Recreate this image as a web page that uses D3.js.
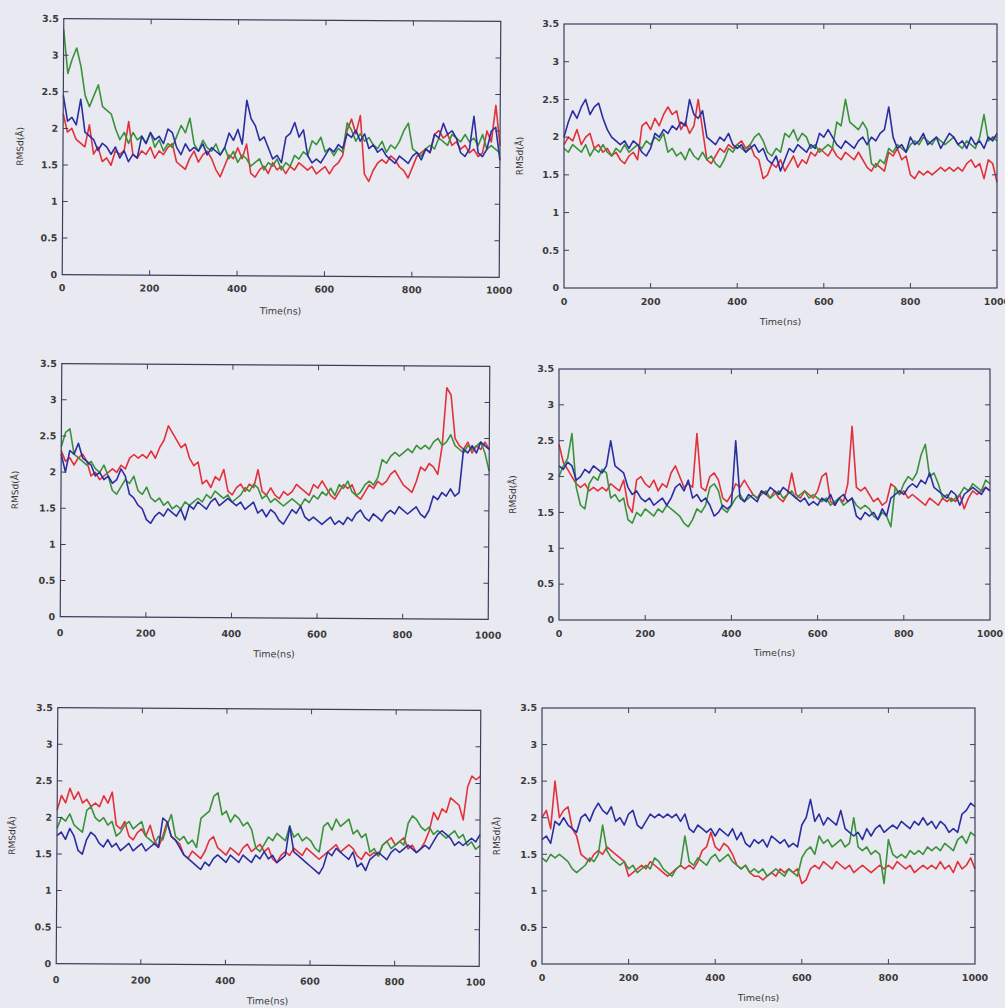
<!DOCTYPE html>
<html><head><meta charset="utf-8">
<script src="https://cdn.jsdelivr.net/npm/d3@7"></script>
<style>
html,body{margin:0;padding:0;background:#e9e9f1;}
svg{display:block;}
text{font-family:"DejaVu Sans",sans-serif;fill:#333;}
</style></head>
<body>
<svg id="chart" width="1005" height="1008"></svg>
<script>
// sampling times (ns)
const times = d3.range(0, 1001, 10);
const yTicks = [0, 0.5, 1, 1.5, 2, 2.5, 3, 3.5];
const yTickLabels = ["0", "0.5", "1", "1.5", "2", "2.5", "3", "3.5"];
const xTicks = [0, 200, 400, 600, 800, 1000];
const xTickLabels = ["0", "200", "400", "600", "800", "1000"];
const seriesNames = ["red", "green", "blue"];

// Panel 1 (top-left)
const p1Red = [2.2,1.95,2.0,1.85,1.8,1.75,2.05,1.65,1.75,1.55,
1.6,1.5,1.7,1.65,1.7,2.1,1.65,1.6,1.7,1.65,
1.75,1.6,1.7,1.65,1.75,1.8,1.55,1.5,1.45,1.6,
1.7,1.55,1.65,1.7,1.6,1.45,1.35,1.5,1.65,1.6,
1.75,1.6,1.8,1.4,1.35,1.45,1.5,1.4,1.55,1.45,
1.5,1.4,1.5,1.45,1.55,1.5,1.45,1.5,1.4,1.45,
1.5,1.4,1.5,1.55,1.65,2.0,2.15,1.95,2.2,1.4,
1.3,1.45,1.55,1.6,1.55,1.65,1.6,1.5,1.45,1.35,
1.5,1.65,1.7,1.75,1.7,1.95,2.0,1.9,1.95,1.8,
1.85,1.75,1.8,1.7,1.75,1.65,1.7,2.0,1.85,2.35,1.8];
const p1Green = [3.35,2.75,2.95,3.1,2.85,2.45,2.3,2.45,2.6,2.3,
2.25,2.2,2.0,1.85,1.95,1.8,1.95,1.85,1.9,1.8,
1.95,1.75,1.85,1.7,1.8,1.75,1.9,2.05,1.95,2.15,
1.8,1.7,1.85,1.75,1.7,1.8,1.65,1.75,1.6,1.7,
1.55,1.65,1.6,1.5,1.55,1.6,1.45,1.55,1.5,1.6,
1.45,1.55,1.5,1.65,1.6,1.7,1.65,1.85,1.8,1.9,
1.7,1.75,1.65,1.75,1.7,2.1,2.0,1.85,1.95,1.85,
1.9,1.8,1.75,1.85,1.7,1.8,1.75,1.85,2.0,2.1,
1.75,1.7,1.65,1.75,1.8,1.75,1.9,1.85,1.8,1.95,
1.9,1.85,1.95,1.85,1.9,1.8,1.95,1.75,1.8,1.75,1.7];
const p1Blue = [2.45,2.1,2.15,2.05,2.4,1.95,1.9,1.85,1.7,1.8,
1.75,1.65,1.75,1.6,1.7,1.55,1.65,1.6,1.9,1.8,
1.95,1.85,1.9,1.8,2.0,1.95,1.75,1.65,1.8,1.7,
1.75,1.7,1.8,1.65,1.75,1.7,1.65,1.75,1.95,1.85,
2.0,1.8,2.4,2.15,2.05,1.85,1.9,1.75,1.6,1.65,
1.55,1.9,1.95,2.1,1.9,2.0,1.65,1.55,1.6,1.55,
1.65,1.75,1.7,1.8,1.75,1.95,1.9,2.0,1.85,1.95,
1.75,1.8,1.7,1.75,1.65,1.6,1.55,1.65,1.6,1.55,
1.65,1.7,1.6,1.75,1.7,1.95,1.9,2.1,1.95,2.0,
1.9,1.7,1.65,1.75,2.2,1.7,1.65,1.75,2.0,2.05,1.6];

// Panel 2 (top-right)
const p2Red = [1.9,2.0,1.95,2.1,1.9,2.0,2.05,1.85,1.9,1.8,
1.85,1.75,1.8,1.7,1.65,1.75,1.8,1.7,2.15,2.2,
2.1,2.25,2.15,2.3,2.4,2.3,2.35,2.1,2.2,2.05,
2.15,2.5,2.1,1.7,1.65,1.75,1.85,1.8,1.9,1.85,
1.9,1.95,1.85,1.9,1.75,1.7,1.45,1.5,1.65,1.6,
1.7,1.55,1.65,1.75,1.6,1.7,1.65,1.8,1.75,1.85,
1.8,1.75,1.85,1.75,1.7,1.8,1.75,1.7,1.8,1.7,
1.6,1.55,1.65,1.6,1.55,1.8,1.75,1.85,1.7,1.75,
1.5,1.45,1.55,1.5,1.55,1.5,1.55,1.6,1.55,1.6,
1.55,1.6,1.55,1.65,1.7,1.6,1.65,1.45,1.7,1.65,1.4];
const p2Green = [1.85,1.8,1.9,1.85,1.8,1.9,1.75,1.85,1.8,1.9,
1.8,1.75,1.85,1.8,1.9,1.8,1.85,1.9,1.85,1.95,
1.9,2.0,1.95,2.05,1.8,1.85,1.75,1.8,1.7,1.85,
1.75,1.7,1.8,1.7,1.75,1.65,1.6,1.7,1.85,1.8,
1.9,1.85,1.8,1.9,2.0,2.05,1.95,1.8,1.75,1.85,
1.8,2.05,2.0,2.1,1.95,2.05,2.0,1.85,1.9,1.8,
1.85,1.9,1.85,2.2,2.15,2.5,2.2,2.15,2.1,2.2,
2.1,1.65,1.6,1.7,1.65,1.85,1.8,1.9,1.85,1.8,
1.9,1.95,1.9,2.0,1.95,1.9,2.0,1.95,1.9,1.95,
2.0,1.9,1.85,1.95,1.9,1.85,2.0,2.3,1.95,2.0,1.95];
const p2Blue = [2.0,2.2,2.35,2.25,2.4,2.5,2.3,2.4,2.45,2.25,
2.1,2.0,1.95,1.9,1.95,1.85,1.95,1.9,1.8,1.75,
1.85,2.05,2.0,2.1,2.05,2.15,2.1,2.2,2.15,2.5,
2.3,2.25,2.35,2.0,1.95,1.9,2.0,1.95,2.05,1.9,
1.85,1.9,1.8,1.85,1.9,1.8,1.85,1.7,1.65,1.75,
1.55,1.7,1.85,1.8,1.9,1.85,1.8,1.9,1.85,2.05,
2.0,2.1,2.0,1.9,1.85,1.95,1.9,1.85,1.95,2.0,
1.9,2.0,1.95,2.05,2.1,2.4,2.0,1.85,1.9,1.8,
2.0,1.9,1.95,2.05,1.9,1.95,2.0,1.85,1.95,2.05,
2.0,1.9,1.95,1.85,2.0,1.9,1.95,1.85,2.0,1.95,2.05];

// Panel 3 (middle-left)
const p3Red = [2.3,2.15,2.2,2.1,2.2,2.25,2.15,1.95,2.0,1.9,
1.95,2.0,2.05,2.0,2.1,2.05,2.2,2.25,2.2,2.25,
2.2,2.3,2.2,2.35,2.45,2.65,2.55,2.45,2.35,2.4,
2.2,2.1,2.15,1.85,1.9,1.8,1.95,1.9,2.05,1.75,
1.7,1.8,1.85,1.75,1.85,1.8,2.05,1.75,1.7,1.8,
1.7,1.65,1.75,1.7,1.75,1.85,1.8,1.75,1.7,1.85,
1.8,1.9,1.8,1.7,1.65,1.75,1.85,1.8,1.85,1.7,
1.65,1.75,1.85,1.8,1.9,1.85,1.9,2.0,2.05,1.95,
1.85,1.8,1.75,1.9,2.1,2.05,2.15,2.1,2.0,2.4,
3.2,3.1,2.5,2.4,2.35,2.45,2.3,2.4,2.35,2.45,2.35];
const p3Green = [2.35,2.55,2.6,2.25,2.2,2.15,2.1,2.15,2.05,2.0,
2.1,1.95,1.75,1.7,1.8,1.9,1.85,1.95,1.75,1.7,
1.8,1.65,1.6,1.65,1.55,1.6,1.5,1.55,1.5,1.6,
1.55,1.6,1.65,1.6,1.7,1.65,1.75,1.7,1.65,1.7,
1.6,1.65,1.7,1.8,1.75,1.85,1.8,1.65,1.7,1.6,
1.65,1.6,1.55,1.6,1.65,1.6,1.55,1.65,1.6,1.7,
1.65,1.75,1.7,1.8,1.7,1.85,1.8,1.9,1.75,1.7,
1.75,1.85,1.9,1.85,1.95,2.2,2.15,2.25,2.3,2.25,
2.3,2.35,2.3,2.4,2.35,2.4,2.35,2.45,2.5,2.4,
2.45,2.55,2.4,2.35,2.3,2.4,2.35,2.4,2.45,2.3,2.05];
const p3Blue = [2.25,2.0,2.3,2.25,2.4,2.2,2.15,2.1,1.95,2.0,
1.9,1.95,1.85,1.9,2.05,1.95,1.7,1.65,1.55,1.5,
1.35,1.3,1.4,1.45,1.4,1.5,1.45,1.4,1.5,1.35,
1.55,1.5,1.6,1.55,1.5,1.6,1.65,1.55,1.6,1.65,
1.6,1.55,1.6,1.5,1.55,1.6,1.45,1.5,1.4,1.5,
1.45,1.35,1.3,1.4,1.5,1.45,1.55,1.4,1.35,1.4,
1.35,1.3,1.35,1.4,1.3,1.35,1.3,1.4,1.35,1.45,
1.5,1.4,1.35,1.45,1.4,1.35,1.45,1.5,1.45,1.55,
1.5,1.45,1.5,1.55,1.45,1.4,1.5,1.7,1.65,1.75,
1.7,1.8,1.7,1.75,2.35,2.3,2.4,2.3,2.45,2.4,2.35];

// Panel 4 (middle-right)
const p4Red = [2.45,2.2,2.1,2.0,1.9,1.85,1.9,1.8,1.85,1.8,
1.85,1.8,1.9,1.85,1.8,1.95,1.6,1.5,1.95,2.0,
1.9,1.85,1.95,1.8,1.9,1.85,2.05,2.15,2.0,1.85,
1.9,1.85,2.6,1.85,1.8,2.0,2.05,1.95,1.7,1.65,
1.75,1.9,1.85,1.95,1.85,1.75,1.7,1.8,1.75,1.7,
1.8,1.7,1.65,1.75,2.05,1.75,1.7,1.8,1.75,1.7,
1.8,2.0,2.05,1.65,1.6,1.7,1.65,1.9,2.7,1.85,
1.8,1.85,1.75,1.65,1.7,1.6,1.65,1.9,1.85,1.75,
1.8,1.7,1.75,1.7,1.65,1.6,1.7,1.65,1.6,1.7,
1.65,1.7,1.65,1.75,1.55,1.7,1.8,1.75,1.8,1.85,1.8];
const p4Green = [2.0,2.15,2.25,2.6,1.85,1.6,1.55,1.9,2.0,1.95,
2.1,2.05,1.7,1.75,1.65,1.7,1.4,1.35,1.5,1.45,
1.55,1.5,1.45,1.55,1.5,1.6,1.55,1.5,1.45,1.35,
1.3,1.4,1.55,1.5,1.6,1.85,1.9,1.8,1.55,1.5,
1.6,1.7,1.75,1.65,1.7,1.75,1.7,1.75,1.8,1.7,
1.75,1.8,1.7,1.75,1.8,1.7,1.75,1.8,1.7,1.75,
1.7,1.65,1.7,1.6,1.65,1.7,1.6,1.65,1.7,1.6,
1.55,1.6,1.55,1.45,1.4,1.5,1.45,1.3,1.85,1.75,
1.9,2.0,1.95,2.05,2.3,2.45,2.0,2.05,1.9,1.7,
1.75,1.65,1.7,1.75,1.85,1.8,1.9,1.85,1.8,1.95,1.9];
const p4Blue = [2.15,2.1,2.2,2.15,1.95,2.0,2.1,2.05,2.15,2.1,
2.05,2.15,2.5,2.15,2.1,2.05,1.85,1.75,1.8,1.7,
1.65,1.7,1.6,1.65,1.7,1.6,1.7,1.85,1.9,1.8,
1.95,1.7,1.75,1.65,1.7,1.6,1.45,1.5,1.6,1.55,
1.6,2.5,1.7,1.65,1.75,1.7,1.65,1.8,1.75,1.85,
1.8,1.75,1.85,1.8,1.75,1.7,1.65,1.7,1.6,1.65,
1.6,1.7,1.65,1.75,1.6,1.7,1.75,1.65,1.7,1.45,
1.4,1.5,1.45,1.5,1.4,1.55,1.45,1.7,1.75,1.8,
1.75,1.85,1.9,1.85,1.95,1.9,2.05,1.85,1.8,1.75,
1.7,1.8,1.75,1.6,1.75,1.8,1.85,1.8,1.75,1.85,1.8];

// Panel 5 (bottom-left)
const p5Red = [2.1,2.3,2.2,2.4,2.25,2.35,2.2,2.25,2.15,2.2,
2.15,2.3,2.2,2.35,1.9,1.85,1.95,1.75,1.7,1.8,
1.85,1.75,1.9,1.7,1.6,1.75,1.95,1.75,1.7,1.65,
1.5,1.45,1.55,1.5,1.45,1.55,1.7,1.75,1.6,1.55,
1.5,1.6,1.55,1.5,1.6,1.65,1.55,1.6,1.65,1.55,
1.6,1.45,1.4,1.5,1.55,1.5,1.6,1.55,1.5,1.6,
1.55,1.5,1.45,1.5,1.55,1.6,1.65,1.55,1.6,1.65,
1.6,1.5,1.45,1.55,1.5,1.55,1.5,1.65,1.7,1.75,
1.65,1.7,1.75,1.6,1.65,1.55,1.6,1.7,1.85,2.1,
2.0,2.15,2.1,2.3,2.25,2.2,2.0,2.45,2.6,2.55,2.6];
const p5Green = [1.85,2.0,1.95,2.05,1.9,1.85,1.8,2.1,2.15,2.0,
1.95,2.0,1.9,1.95,1.75,1.8,1.9,1.95,1.85,1.9,
1.95,1.75,1.7,1.65,1.75,1.7,1.9,2.05,1.75,1.7,
1.75,1.65,1.7,1.6,2.0,2.05,2.1,2.3,2.35,2.05,
2.1,1.95,2.05,2.0,1.9,1.95,1.85,1.6,1.55,1.65,
1.75,1.7,1.8,1.75,1.7,1.9,1.75,1.8,1.7,1.75,
1.7,1.6,1.55,1.9,1.95,1.85,2.0,1.9,1.95,2.0,
1.8,1.85,1.75,1.8,1.55,1.6,1.5,1.65,1.7,1.6,
1.65,1.7,1.65,1.95,2.05,2.0,1.9,1.85,1.9,1.8,
1.85,1.8,1.75,1.8,1.85,1.75,1.8,1.65,1.7,1.6,1.65];
const p5Blue = [1.75,1.8,1.7,1.85,1.75,1.55,1.5,1.7,1.8,1.75,
1.65,1.6,1.7,1.6,1.65,1.55,1.6,1.65,1.55,1.6,
1.65,1.55,1.6,1.65,1.6,2.0,1.95,1.75,1.7,1.6,
1.5,1.45,1.4,1.35,1.3,1.4,1.35,1.45,1.5,1.45,
1.4,1.5,1.45,1.4,1.5,1.45,1.4,1.5,1.45,1.55,
1.45,1.5,1.4,1.45,1.5,1.9,1.55,1.5,1.45,1.4,
1.35,1.3,1.25,1.35,1.55,1.5,1.6,1.55,1.5,1.45,
1.55,1.35,1.4,1.3,1.45,1.5,1.55,1.5,1.45,1.55,
1.6,1.55,1.6,1.65,1.6,1.55,1.6,1.65,1.6,1.7,
1.8,1.85,1.8,1.75,1.65,1.7,1.65,1.7,1.75,1.7,1.8];

// Panel 6 (bottom-right)
const p6Red = [2.0,2.1,1.85,2.5,2.0,2.1,2.15,1.85,1.75,1.5,
1.45,1.4,1.5,1.55,1.5,1.6,1.55,1.5,1.45,1.4,
1.2,1.25,1.3,1.35,1.3,1.4,1.35,1.3,1.25,1.2,
1.25,1.3,1.35,1.3,1.35,1.3,1.4,1.55,1.6,1.8,
1.6,1.55,1.65,1.6,1.5,1.35,1.3,1.35,1.25,1.2,
1.2,1.15,1.2,1.25,1.2,1.3,1.25,1.3,1.25,1.3,
1.1,1.15,1.3,1.35,1.3,1.4,1.35,1.3,1.4,1.35,
1.3,1.35,1.25,1.3,1.35,1.3,1.25,1.3,1.35,1.3,
1.35,1.3,1.4,1.35,1.3,1.35,1.25,1.3,1.35,1.3,
1.35,1.3,1.4,1.3,1.35,1.25,1.4,1.3,1.35,1.45,1.3];
const p6Green = [1.45,1.4,1.5,1.45,1.5,1.45,1.4,1.3,1.25,1.3,
1.35,1.45,1.4,1.5,1.9,1.55,1.45,1.4,1.35,1.4,
1.3,1.35,1.25,1.3,1.35,1.3,1.45,1.4,1.3,1.25,
1.2,1.3,1.35,1.75,1.4,1.35,1.45,1.4,1.35,1.45,
1.5,1.4,1.45,1.5,1.4,1.35,1.3,1.35,1.25,1.3,
1.25,1.3,1.2,1.25,1.3,1.25,1.2,1.3,1.25,1.2,
1.45,1.55,1.6,1.5,1.75,1.65,1.7,1.6,1.65,1.7,
1.6,1.65,2.0,1.6,1.55,1.6,1.5,1.55,1.5,1.1,
1.7,1.5,1.45,1.5,1.45,1.55,1.5,1.55,1.5,1.6,
1.55,1.6,1.55,1.65,1.6,1.55,1.7,1.75,1.65,1.8,1.75];
const p6Blue = [1.7,1.75,1.65,1.95,1.9,2.0,1.9,1.85,1.8,2.0,
2.05,1.95,2.1,2.2,2.1,2.05,2.15,1.95,2.0,1.9,
2.05,2.1,1.9,1.85,1.95,2.05,2.0,2.05,2.0,2.05,
2.0,2.05,1.95,2.05,1.85,1.8,1.9,1.85,1.8,1.85,
1.75,1.85,1.8,1.75,1.85,1.7,1.8,1.65,1.6,1.7,
1.65,1.7,1.6,1.75,1.7,1.65,1.7,1.6,1.65,1.6,
1.9,2.0,2.25,1.95,2.05,1.9,2.0,1.95,1.9,2.1,
1.85,1.8,1.75,1.8,1.7,1.85,1.75,1.85,1.9,1.8,
1.85,1.9,1.85,1.95,1.9,1.85,1.95,1.9,2.0,1.9,
1.95,1.85,1.95,1.9,1.8,1.85,1.8,2.05,2.1,2.2,2.15];

const panelSeries = [
  [p1Red, p1Green, p1Blue],
  [p2Red, p2Green, p2Blue],
  [p3Red, p3Green, p3Blue],
  [p4Red, p4Green, p4Blue],
  [p5Red, p5Green, p5Blue],
  [p6Red, p6Green, p6Blue]
];
const xTitle = "Time(ns)";
const yTitle = "RMSd(Å)";

// ---- layout (pixel geometry) ----
const layout = [
  {L:63, R:500, T:20, B:276, tl:13, tt:35, yt:43, rot:0.35},
  {L:564, R:997, T:24, B:288, tl:14, tt:34, yt:44, rot:0.0},
  {L:61, R:489, T:365, B:618, tl:16, tt:36, yt:46, rot:0.35},
  {L:559, R:990, T:369, B:620, tl:14, tt:33, yt:46, rot:0.0},
  {L:57, R:480, T:709, B:965, tl:16, tt:36, yt:45, rot:0.35, clipR:486},
  {L:542, R:975, T:708, B:964, tl:14, tt:34, yt:45, rot:0.0}
];
const colors = {red:"#e2313b", green:"#3a923a", blue:"#2a2ea0"};
const frameColor = "#3e3e5c";

const svg = d3.select("#chart");
const defs = svg.append("defs");

panelSeries.forEach((series, i) => {
  const g0 = layout[i];
  const cx = (g0.L + g0.R)/2, cy = (g0.T + g0.B)/2;
  let outer = svg.append("g")
    .attr("transform", `rotate(${g0.rot},${cx},${cy})`);
  if (g0.clipR) {
    defs.append("clipPath").attr("id", "clip"+i)
      .append("rect").attr("x", 0).attr("y", g0.T - 20)
      .attr("width", g0.clipR).attr("height", 400);
    outer = outer.append("g").attr("clip-path", `url(#clip${i})`);
  }
  const x = d3.scaleLinear().domain([0, 1000]).range([g0.L, g0.R]);
  const y = d3.scaleLinear().domain([0, 3.5]).range([g0.B, g0.T]);

  // lines
  const line = d3.line().x((d, k) => x(times[k])).y(d => y(d));
  series.forEach((vals, s) => {
    outer.append("path")
      .datum(vals)
      .attr("fill", "none")
      .attr("stroke", colors[seriesNames[s]])
      .attr("stroke-width", 1.6)
      .attr("stroke-linejoin", "round")
      .attr("d", line);
  });

  // frame
  outer.append("rect")
    .attr("x", g0.L).attr("y", g0.T)
    .attr("width", g0.R - g0.L).attr("height", g0.B - g0.T)
    .attr("fill", "none").attr("stroke", frameColor).attr("stroke-width", 1.2);

  const tk = 5;
  yTicks.forEach((v, k) => {
    const yy = y(v);
    if (k > 0 && k < yTicks.length - 1) {
      outer.append("line").attr("x1", g0.L).attr("x2", g0.L + tk)
        .attr("y1", yy).attr("y2", yy).attr("stroke", frameColor);
      outer.append("line").attr("x1", g0.R).attr("x2", g0.R - tk)
        .attr("y1", yy).attr("y2", yy).attr("stroke", frameColor);
    }
    outer.append("text")
      .attr("x", g0.L - 5).attr("y", yy).attr("dy", "0.35em")
      .attr("text-anchor", "end").attr("font-size", 9.5)
      .attr("font-weight", "bold").style("fill", "#3a3a3a")
      .text(yTickLabels[k]);
  });
  xTicks.forEach((v, k) => {
    const xx = x(v);
    if (k > 0 && k < xTicks.length - 1) {
      outer.append("line").attr("x1", xx).attr("x2", xx)
        .attr("y1", g0.B).attr("y2", g0.B - tk).attr("stroke", frameColor);
      outer.append("line").attr("x1", xx).attr("x2", xx)
        .attr("y1", g0.T).attr("y2", g0.T + tk).attr("stroke", frameColor);
    }
    outer.append("text")
      .attr("x", xx).attr("y", g0.B + g0.tl).attr("dy", "0.35em")
      .attr("text-anchor", "middle").attr("font-size", 9.5)
      .attr("font-weight", "bold").style("fill", "#3a3a3a")
      .text(xTickLabels[k]);
  });
  outer.append("text")
    .attr("x", cx).attr("y", g0.B + g0.tt).attr("dy", "0.35em")
    .attr("text-anchor", "middle").attr("font-size", 9.5)
    .style("fill", "#3a3a3a")
    .text(xTitle);
  outer.append("text")
    .attr("transform", `translate(${g0.L - g0.yt},${cy}) rotate(-90)`)
    .attr("dy", "0.35em")
    .attr("text-anchor", "middle").attr("font-size", 9)
    .style("fill", "#3a3a3a")
    .text(yTitle);
});
</script>
</body></html>
